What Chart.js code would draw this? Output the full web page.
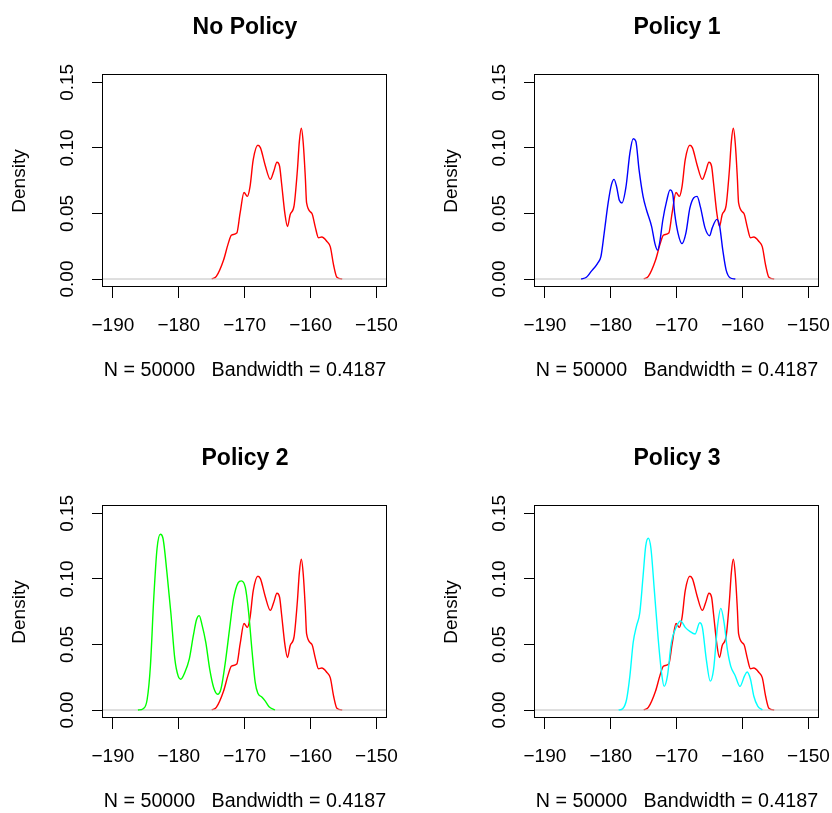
<!DOCTYPE html>
<html>
<head>
<meta charset="utf-8">
<script src="https://cdn.jsdelivr.net/npm/chart.js@4.4.0/dist/chart.umd.min.js"></script>
<style>
html, body { margin: 0; padding: 0; background: #fff; width: 832px; height: 813px; overflow: hidden; }
.panel { position: absolute; width: 400px; height: 382px; }
</style>
</head>
<body>
<div class="panel" style="left:0px;top:0px"><canvas id="p0" width="400" height="382"></canvas></div>
<div class="panel" style="left:432px;top:0px"><canvas id="p1" width="400" height="382"></canvas></div>
<div class="panel" style="left:0px;top:431px"><canvas id="p2" width="400" height="382"></canvas></div>
<div class="panel" style="left:432px;top:431px"><canvas id="p3" width="400" height="382"></canvas></div>
<script>
// Axis ticks and labels
const xTicks = [-190, -180, -170, -160, -150];
const yTicks = [0, 0.05, 0.10, 0.15];
const panelTitles = ['No Policy', 'Policy 1', 'Policy 2', 'Policy 3'];
const xLabel = 'N = 50000   Bandwidth = 0.4187';
const yLabel = 'Density';

// Density curves
const noPolicyX = [-175.0, -174.3, -173.2, -172.5, -172.0, -171.2, -170.7, -170.1, -169.6, -169.2, -168.7, -168.0, -167.6, -166.9, -166.1, -165.6, -165.1, -164.7, -164.4, -163.9, -163.5, -163.1, -162.5, -162.0, -161.7, -161.4, -161.1, -160.8, -160.6, -159.8, -159.3, -158.8, -158.3, -157.5, -157.0, -156.5, -156.0, -155.2];
const noPolicyY = [0, 0.002, 0.0145, 0.027, 0.0335, 0.035, 0.050, 0.066, 0.063, 0.070, 0.091, 0.102, 0.100, 0.087, 0.076, 0.082, 0.089, 0.086, 0.073, 0.050, 0.040, 0.049, 0.056, 0.083, 0.105, 0.115, 0.103, 0.078, 0.058, 0.050, 0.040, 0.0315, 0.032, 0.0285, 0.0245, 0.0105, 0.0013, 0];

const policy1X = [-184.5, -183.7, -183.0, -182.0, -181.5, -181.0, -180.4, -179.9, -179.5, -179.1, -178.7, -178.3, -177.7, -177.1, -176.6, -176.2, -175.7, -175.1, -174.6, -173.8, -173.3, -172.9, -172.6, -172.1, -171.5, -171.0, -170.6, -170.3, -169.8, -169.2, -168.6, -168.0, -167.4, -166.9, -166.4, -165.7, -165.0, -164.6, -163.9, -163.5, -163.0, -162.5, -161.9, -161.1];
const policy1Y = [0, 0.0013, 0.0056, 0.012, 0.017, 0.035, 0.058, 0.072, 0.076, 0.070, 0.060, 0.058, 0.070, 0.096, 0.107, 0.105, 0.083, 0.063, 0.053, 0.040, 0.027, 0.022, 0.027, 0.045, 0.060, 0.068, 0.065, 0.050, 0.035, 0.027, 0.035, 0.054, 0.062, 0.063, 0.055, 0.039, 0.033, 0.039, 0.0455, 0.041, 0.022, 0.007, 0.001, 0];

const policy2X = [-186.2, -185.4, -184.8, -184.3, -183.8, -183.3, -182.8, -182.4, -181.8, -181.2, -180.6, -180.1, -179.7, -179.1, -178.4, -177.8, -177.3, -176.9, -176.5, -175.9, -175.3, -174.7, -174.1, -173.6, -173.0, -172.3, -171.7, -171.0, -170.5, -169.9, -169.4, -168.9, -168.4, -168.0, -167.4, -166.9, -166.3, -165.4];
const policy2Y = [0, 0.001, 0.008, 0.034, 0.085, 0.123, 0.134, 0.131, 0.105, 0.074, 0.039, 0.026, 0.0235, 0.0285, 0.039, 0.0565, 0.069, 0.072, 0.0655, 0.0515, 0.031, 0.017, 0.012, 0.016, 0.034, 0.0615, 0.0845, 0.097, 0.0985, 0.0935, 0.0745, 0.046, 0.021, 0.0127, 0.010, 0.007, 0.0025, 0];

const policy3X = [-178.8, -178.2, -177.6, -177.1, -176.6, -176.1, -175.6, -175.1, -174.7, -174.3, -173.9, -173.4, -172.8, -172.3, -171.9, -171.4, -170.8, -170.0, -169.4, -168.7, -168.0, -167.2, -166.5, -166.1, -165.5, -164.9, -164.4, -163.8, -163.3, -162.8, -162.3, -161.8, -161.1, -160.4, -159.7, -159.3, -158.8, -158.3, -157.7, -157.0];
const policy3Y = [0, 0.001, 0.008, 0.026, 0.0515, 0.064, 0.074, 0.102, 0.125, 0.131, 0.123, 0.092, 0.054, 0.0285, 0.018, 0.026, 0.0515, 0.064, 0.068, 0.063, 0.060, 0.058, 0.0665, 0.063, 0.0385, 0.022, 0.031, 0.064, 0.0775, 0.0665, 0.046, 0.0335, 0.026, 0.018, 0.026, 0.029, 0.0235, 0.0107, 0.003, 0];

const FONT = '"Liberation Sans", Arial, Helvetica, sans-serif';

// R style frame: zero line, box, rotated y labels, main title
const rFrame = {
    id: 'rFrame',
    afterDatasetDraw(chart, args) {
        if (args.index !== 0) return; // zero line goes over the first curve
        const { ctx, chartArea: a, scales: { y } } = chart;
        const py = y.getPixelForValue(0);
        ctx.save();
        ctx.strokeStyle = '#bebebe';
        ctx.lineWidth = 1;
        ctx.beginPath();
        ctx.moveTo(a.left, py);
        ctx.lineTo(a.right, py);
        ctx.stroke();
        ctx.restore();
    },
    afterDraw(chart, args, opts) {
        const { ctx, chartArea: a, scales: { y } } = chart;
        ctx.save();
        ctx.strokeStyle = '#000';
        ctx.lineWidth = 1;
        ctx.strokeRect(a.left - 0.5, a.top - 0.5, a.right - a.left, a.bottom - a.top);

        ctx.fillStyle = '#000';
        ctx.font = '19px ' + FONT;
        ctx.textAlign = 'center';
        ctx.textBaseline = 'middle';
        yTicks.forEach(v => {
            ctx.save();
            ctx.translate(a.left - 35.5, y.getPixelForValue(v));
            ctx.rotate(-Math.PI / 2);
            ctx.fillText(v.toFixed(2), 0, 0);
            ctx.restore();
        });

        ctx.font = 'bold 23px ' + FONT;
        ctx.textBaseline = 'alphabetic';
        ctx.fillText(opts.title, (a.left + a.right) / 2, 34);
        ctx.restore();
    }
};

function makePanel(id, title, curves) {
    const datasets = curves.map((c, i) => ({
        data: c.xs.map((x, k) => ({ x: x, y: c.ys[k] })),
        borderColor: c.color,
        borderWidth: 1.4,
        pointRadius: 0,
        fill: false,
        cubicInterpolationMode: 'monotone',
        order: curves.length - i
    }));

    new Chart(document.getElementById(id), {
        type: 'line',
        data: { datasets: datasets },
        plugins: [rFrame],
        options: {
            responsive: false,
            animation: false,
            events: [],
            layout: { padding: { top: 75, right: 13, bottom: 0, left: 0 } },
            plugins: {
                legend: { display: false },
                tooltip: { enabled: false },
                rFrame: { title: title }
            },
            scales: {
                x: {
                    type: 'linear',
                    min: -191.5,
                    max: -148.4,
                    afterBuildTicks: s => { s.ticks = xTicks.map(v => ({ value: v })); },
                    afterFit: s => { s.height = 95; s.paddingLeft = 0; s.paddingRight = 0; },
                    border: { display: false },
                    grid: { drawOnChartArea: false, drawTicks: true, tickLength: 11, color: '#000', lineWidth: 1 },
                    ticks: {
                        color: '#000',
                        font: { family: FONT, size: 19 },
                        padding: 16,
                        maxRotation: 0,
                        autoSkip: false,
                        callback: v => (v < 0 ? '\u2212' + Math.abs(v) : String(v))
                    },
                    title: {
                        display: true,
                        text: xLabel,
                        color: '#000',
                        font: { family: FONT, size: 19.7 },
                        padding: { top: 0, bottom: 0 }
                    }
                },
                y: {
                    type: 'linear',
                    min: -0.0061,
                    max: 0.1556,
                    afterBuildTicks: s => { s.ticks = yTicks.map(v => ({ value: v })); },
                    afterFit: s => { s.width = 103; s.paddingTop = 0; s.paddingBottom = 0; },
                    border: { display: false },
                    grid: { drawOnChartArea: false, drawTicks: true, tickLength: 11, color: '#000', lineWidth: 1 },
                    ticks: { display: false },
                    title: {
                        display: true,
                        text: yLabel,
                        color: '#000',
                        font: { family: FONT, size: 19 },
                        padding: { top: 8.6, bottom: 0 }
                    }
                }
            }
        }
    });
}

const red = { xs: noPolicyX, ys: noPolicyY, color: '#ff0000' };

makePanel('p0', panelTitles[0], [red]);
makePanel('p1', panelTitles[1], [red, { xs: policy1X, ys: policy1Y, color: '#0000ff' }]);
makePanel('p2', panelTitles[2], [red, { xs: policy2X, ys: policy2Y, color: '#00ff00' }]);
makePanel('p3', panelTitles[3], [red, { xs: policy3X, ys: policy3Y, color: '#00ffff' }]);
</script>
</body>
</html>
